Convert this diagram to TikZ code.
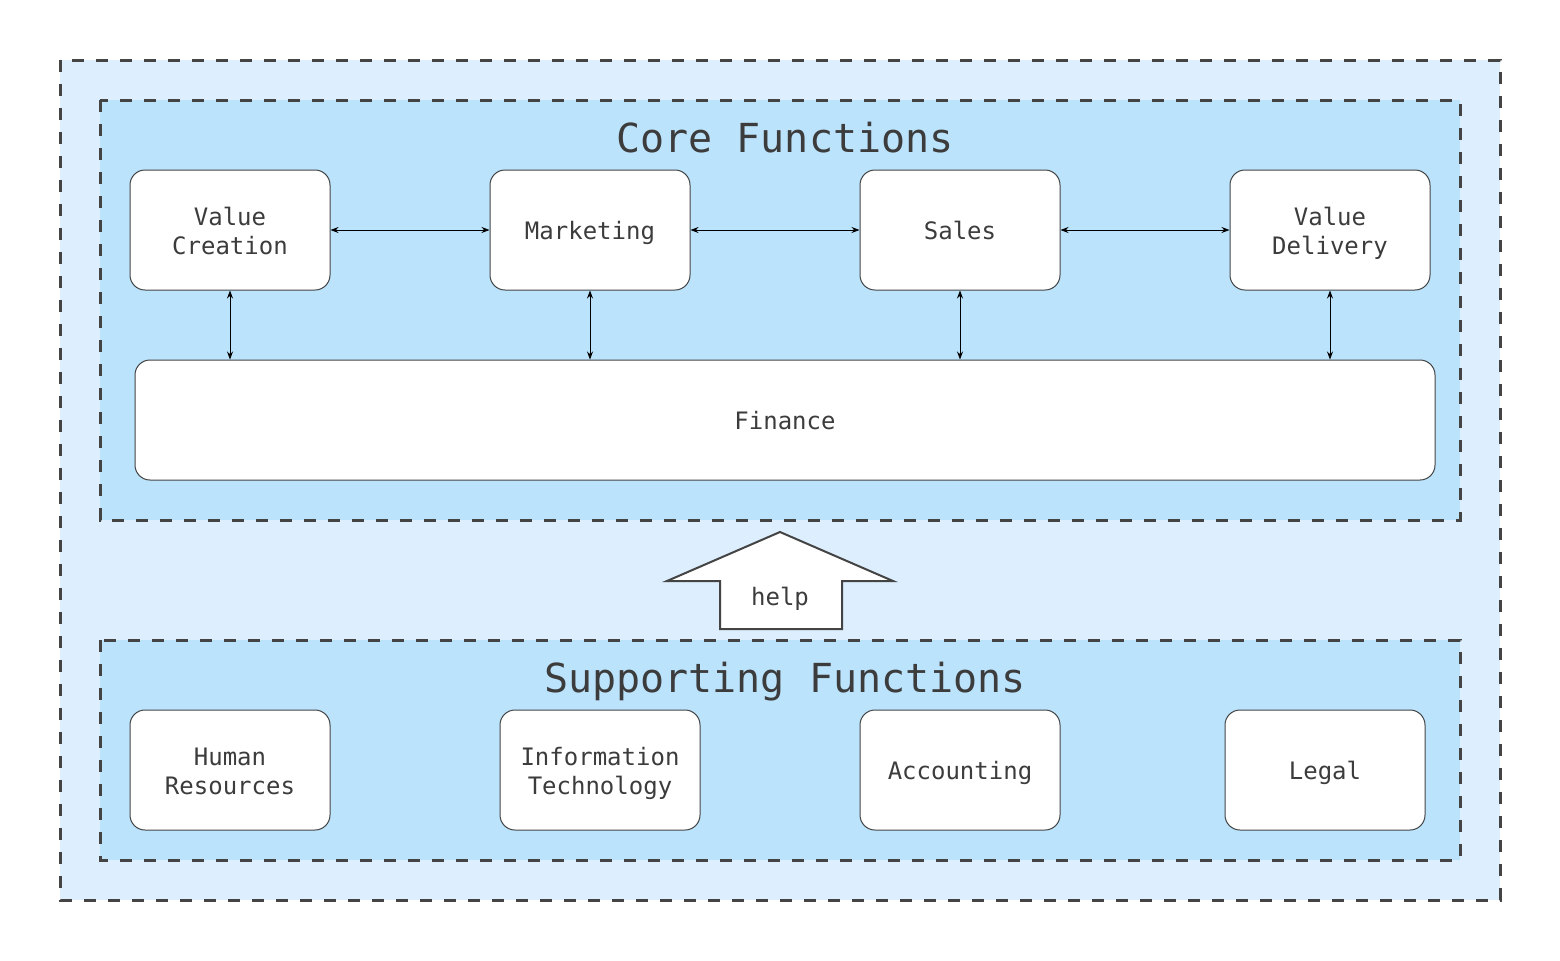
\documentclass[tikz,border=0pt]{standalone}
\usepackage{fontspec}
\setmonofont{DejaVu Sans Mono}
\usetikzlibrary{arrows.meta}
\definecolor{outerblue}{RGB}{221,239,255}
\definecolor{innerblue}{RGB}{187,227,252}
\definecolor{edgegray}{RGB}{68,68,68}
\definecolor{textgray}{RGB}{60,60,60}
\tikzset{
  group/.style={draw=edgegray, line width=1.5pt, dash pattern=on 6.2pt off 5.8pt},
  fnbox/.style={draw=edgegray, fill=white, rounded corners=7.5pt, line width=0.5pt,
    minimum width=100pt, minimum height=60pt, align=center, text=textgray, text depth=0pt,
    font=\ttfamily\fontsize{12}{14.5}\selectfont},
  grouptitle/.style={text=textgray, text depth=0pt, font=\ttfamily\fontsize{20}{22}\selectfont},
  link/.style={{Stealth[length=4pt,width=3pt]}-{Stealth[length=4pt,width=3pt]}, line width=0.4pt}
}
\begin{document}
\begin{tikzpicture}[x=0.5pt,y=-0.5pt]
\useasboundingbox (0,0) rectangle (1560,960);
% groups
\draw[group, fill=outerblue] (60,60) rectangle (1500,900);
\draw[group, fill=innerblue] (100,100) rectangle (1460,520);
\draw[group, fill=innerblue] (100,640) rectangle (1460,860);
\node[grouptitle] (coretitle) at (785,137) {Core Functions};
\node[grouptitle] (supptitle) at (785,677) {Supporting Functions};
% core functions
\node[fnbox] (valcre) at (230,230) {\strut Value\\Creation};
\node[fnbox] (mkt) at (590,230) {Marketing};
\node[fnbox] (sales) at (960,230) {Sales};
\node[fnbox] (valdel) at (1330,230) {\strut Value\\Delivery};
\node[fnbox, minimum width=650pt] (fin) at (785,420) {Finance};
\draw[link] (valcre) -- (mkt);
\draw[link] (mkt) -- (sales);
\draw[link] (sales) -- (valdel);
\foreach \n in {valcre,mkt,sales,valdel}
  \draw[link] (\n.south) -- (\n.south |- fin.north);
% help arrow
\draw[draw=edgegray, fill=white, line width=1pt] (780,532) -- (893,581) -- (842,581) -- (842,629)
  -- (720,629) -- (720,581) -- (667,581) -- cycle;
\node[text=textgray, text depth=0pt, font=\ttfamily\fontsize{12}{14.5}\selectfont] (help) at (780,596) {help};
% supporting functions
\node[fnbox] (hr) at (230,770) {\strut Human\\Resources};
\node[fnbox] (it) at (600,770) {\strut Information\\Technology};
\node[fnbox] (acc) at (960,770) {Accounting};
\node[fnbox] (legal) at (1325,770) {Legal};
\end{tikzpicture}
\end{document}
